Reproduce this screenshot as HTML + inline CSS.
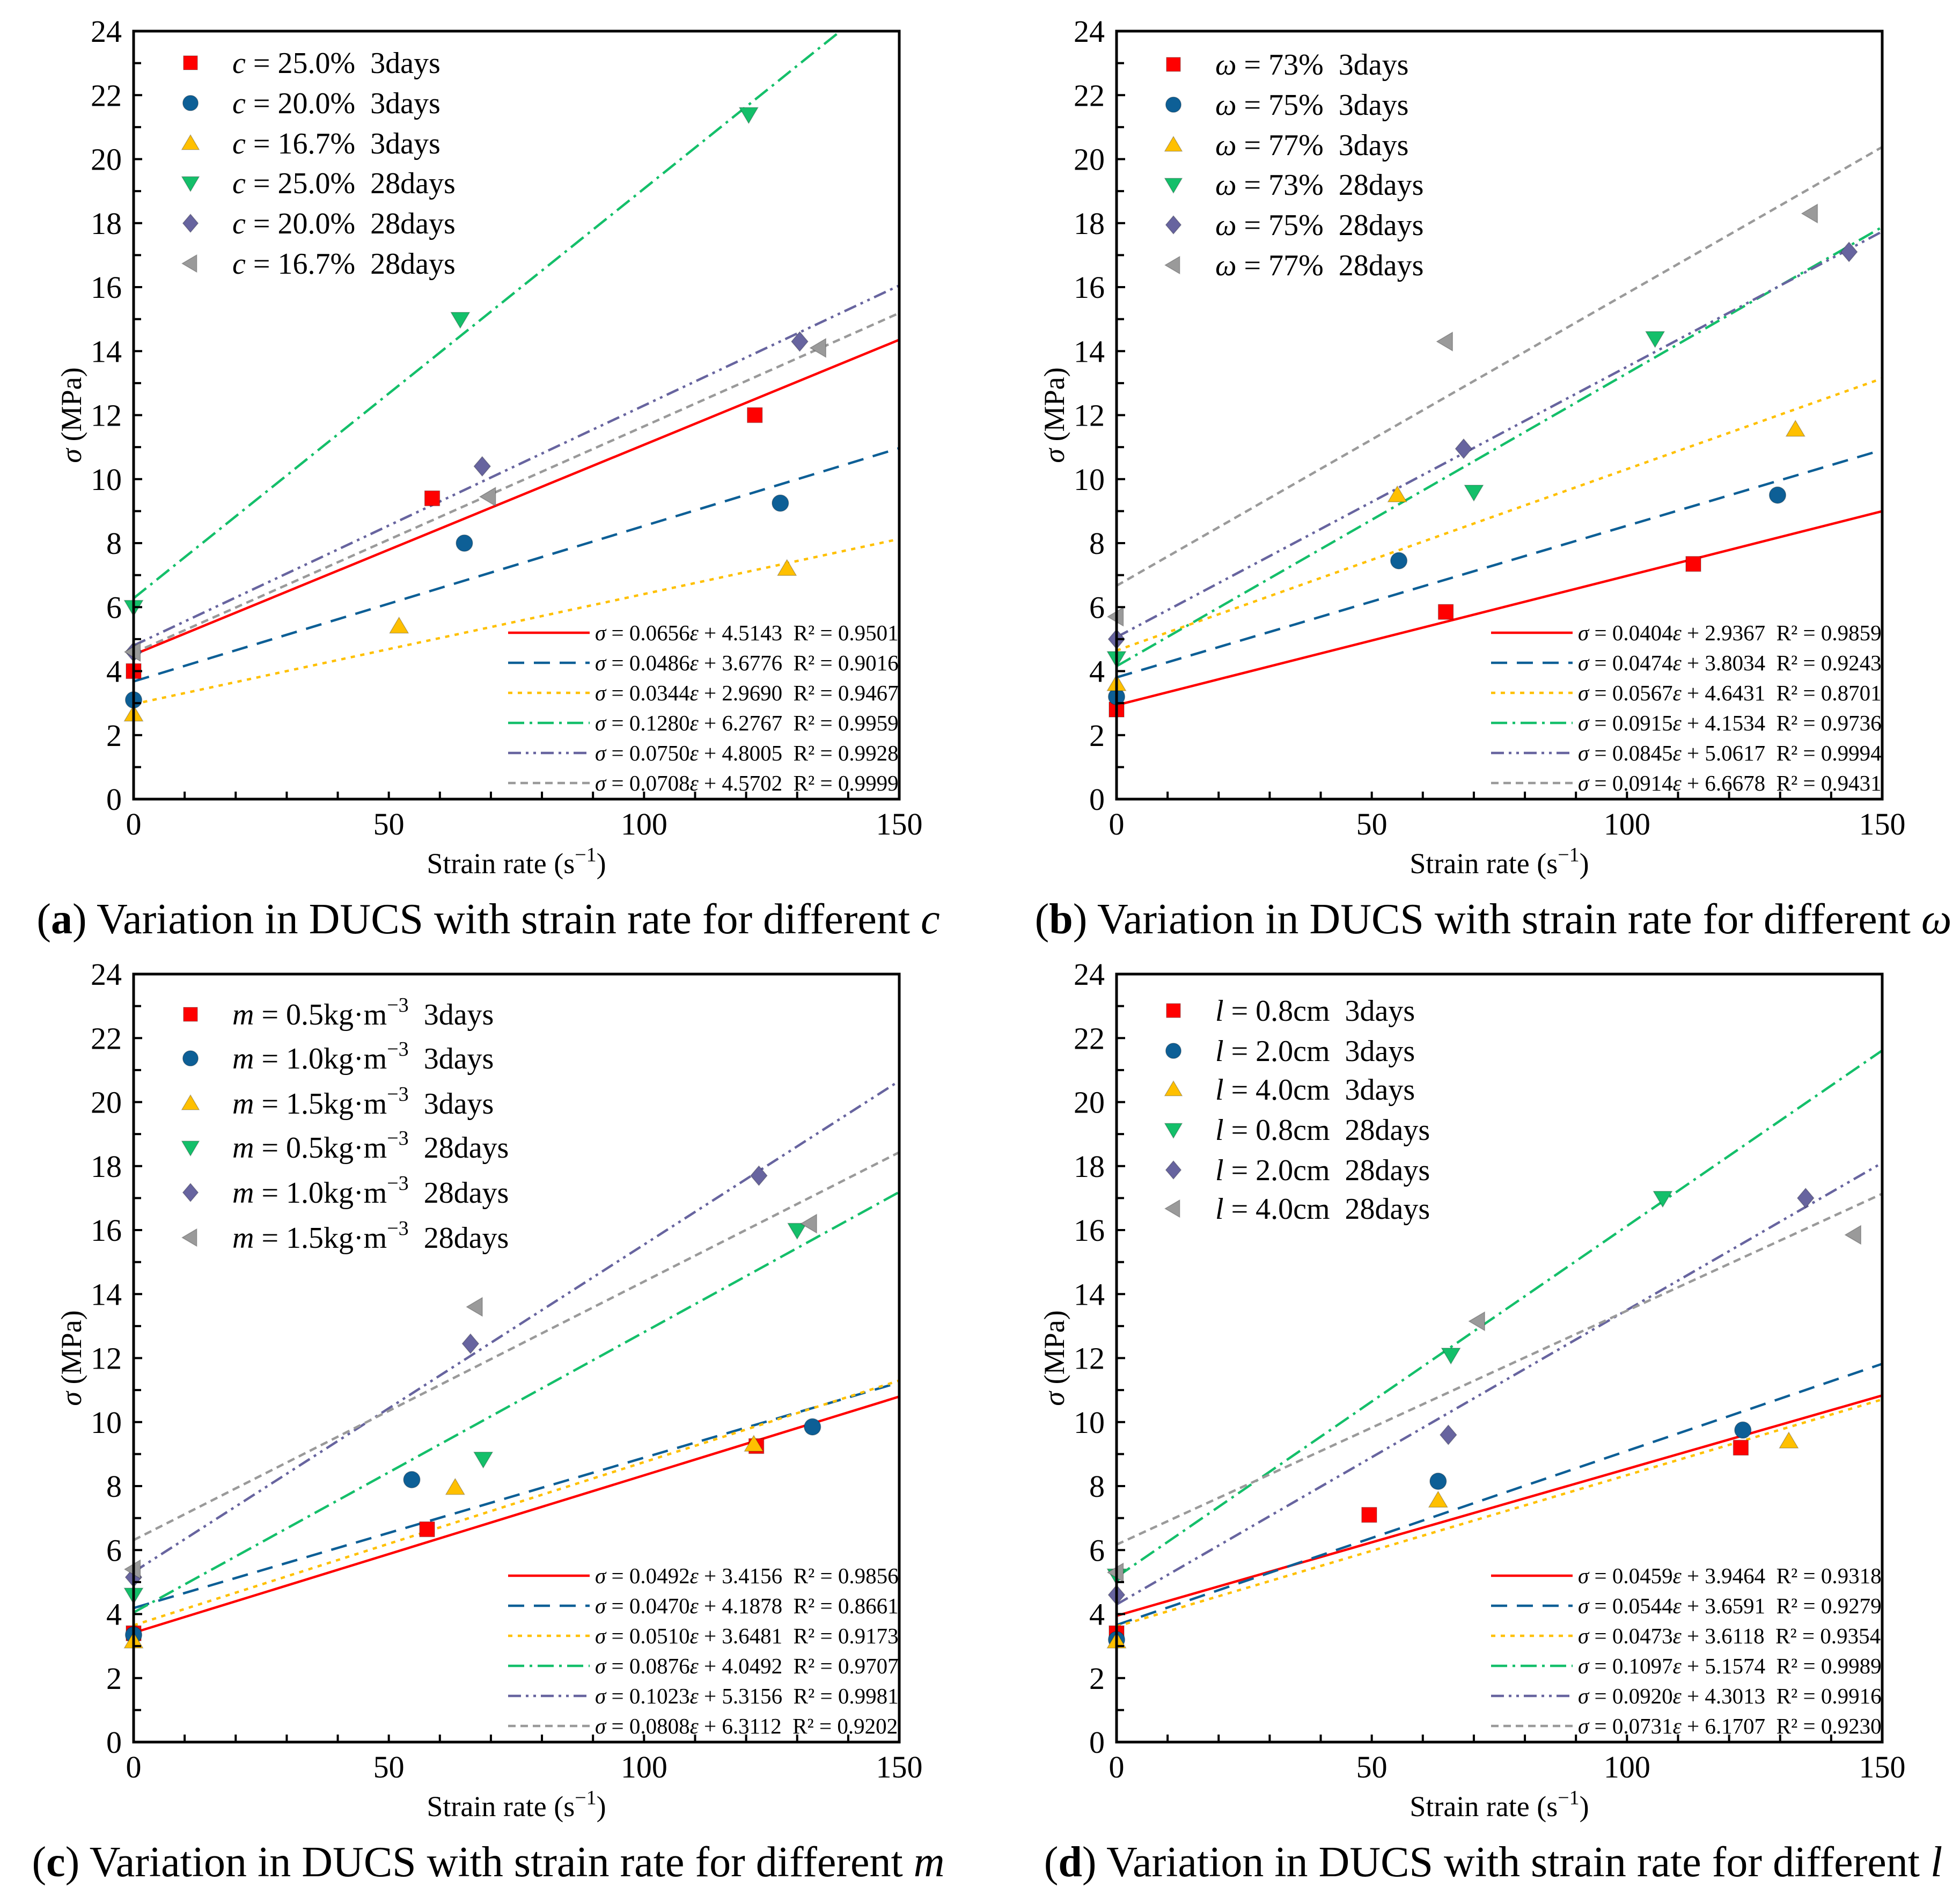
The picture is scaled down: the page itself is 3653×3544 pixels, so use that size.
<!DOCTYPE html>
<html><head><meta charset="utf-8"><style>
html,body{margin:0;padding:0;background:#fff}
svg{display:block;font-family:"Liberation Serif",serif}
svg text{white-space:pre}
</style></head><body>
<svg id="fig" width="3653" height="3544" viewBox="0 0 3653 3544" xmlns="http://www.w3.org/2000/svg"></svg>
<script>
// ---- data ----
const seriesColors = ["#ff0000","#0d5f96","#ffc000","#14bf6a","#67649f","#9a9a9a"];
const seriesMarkers = ["square","circle","triangle","down","diamond","left"];
const seriesDash = ["", "30,18", "8,10", "30,10,5,10", "24,9,5,9,5,9", "14,9"];
const xTicks = [0,50,100,150];
const yTicks = [0,2,4,6,8,10,12,14,16,18,20,22,24];

const aX = [[0,58.5,121.7],[0,64.8,126.7],[0,52,128],[0,64,120.5],[0,68.3,130.5],[0,69.6,134.3]];
const aY = [[4.0,9.4,12.0],[3.1,8.0,9.25],[2.65,5.4,7.2],[6.0,15.0,21.4],[4.6,10.4,14.3],[4.6,9.45,14.1]];
const aSlope = [0.0656,0.0486,0.0344,0.1280,0.0750,0.0708];
const aIntercept = [4.5143,3.6776,2.9690,6.2767,4.8005,4.5702];
const aR2 = ["0.9501","0.9016","0.9467","0.9959","0.9928","0.9999"];
const aLabels = ["25.0%  3days","20.0%  3days","16.7%  3days","25.0%  28days","20.0%  28days","16.7%  28days"];

const bX = [[0,64.5,113],[0,55.3,129.5],[0,55,133],[0,70,105.5],[0,68,143.5],[0,64.5,136]];
const bY = [[2.8,5.85,7.35],[3.2,7.45,9.5],[3.6,9.5,11.55],[4.4,9.6,14.4],[5.0,10.95,17.1],[5.7,14.3,18.3]];
const bSlope = [0.0404,0.0474,0.0567,0.0915,0.0845,0.0914];
const bIntercept = [2.9367,3.8034,4.6431,4.1534,5.0617,6.6678];
const bR2 = ["0.9859","0.9243","0.8701","0.9736","0.9994","0.9431"];
const bLabels = ["73%  3days","75%  3days","77%  3days","73%  28days","75%  28days","77%  28days"];

const cX = [[0,57.5,122],[0,54.5,133],[0,63,121.5],[0,68.5,130],[0,66,122.5],[0,67,132.5]];
const cY = [[3.4,6.65,9.25],[3.35,8.2,9.85],[3.15,7.95,9.3],[4.6,8.85,16.0],[5.15,12.45,17.7],[5.4,13.6,16.2]];
const cSlope = [0.0492,0.0470,0.0510,0.0876,0.1023,0.0808];
const cIntercept = [3.4156,4.1878,3.6481,4.0492,5.3156,6.3112];
const cR2 = ["0.9856","0.8661","0.9173","0.9707","0.9981","0.9202"];
const cLabels = ["0.5","1.0","1.5","0.5","1.0","1.5"];
const cDays = ["3days","3days","3days","28days","28days","28days"];

const dX = [[0,49.5,122.3],[0,63,122.7],[0,63,131.7],[0,65.5,107],[0,65,135],[0,70.8,144.5]];
const dY = [[3.4,7.1,9.2],[3.2,8.15,9.75],[3.15,7.55,9.4],[5.2,12.1,17.0],[4.6,9.6,17.0],[5.3,13.15,15.85]];
const dSlope = [0.0459,0.0544,0.0473,0.1097,0.0920,0.0731];
const dIntercept = [3.9464,3.6591,3.6118,5.1574,4.3013,6.1707];
const dR2 = ["0.9318","0.9279","0.9354","0.9989","0.9916","0.9230"];
const dLabels = ["0.8cm  3days","2.0cm  3days","4.0cm  3days","0.8cm  28days","2.0cm  28days","4.0cm  28days"];

// ---- drawing ----
const NS="http://www.w3.org/2000/svg";
const svg=document.getElementById('fig');
function mk(tag,attrs,parent){const e=document.createElementNS(NS,tag);for(const k in attrs)e.setAttribute(k,attrs[k]);(parent||svg).appendChild(e);return e;}

function marker(g,type,cx,cy,color,s){
  let e;
  if(type==="square") e=mk('rect',{x:cx-s*0.5,y:cy-s*0.5,width:s,height:s,fill:color},g);
  else if(type==="circle") e=mk('circle',{cx:cx,cy:cy,r:s*0.55,fill:color},g);
  else if(type==="triangle") e=mk('polygon',{points:`${cx},${cy-s*0.6} ${cx+s*0.62},${cy+s*0.45} ${cx-s*0.62},${cy+s*0.45}`,fill:color},g);
  else if(type==="down") e=mk('polygon',{points:`${cx},${cy+s*0.6} ${cx+s*0.62},${cy-s*0.45} ${cx-s*0.62},${cy-s*0.45}`,fill:color},g);
  else if(type==="diamond") e=mk('polygon',{points:`${cx},${cy-s*0.65} ${cx+s*0.55},${cy} ${cx},${cy+s*0.65} ${cx-s*0.55},${cy}`,fill:color},g);
  else e=mk('polygon',{points:`${cx-s*0.6},${cy} ${cx+s*0.45},${cy-s*0.62} ${cx+s*0.45},${cy+s*0.62}`,fill:color},g);
  e.setAttribute('stroke','rgba(0,0,0,0.25)');e.setAttribute('stroke-width','1.5');
  return e;
}

function panel(id,L,T,xs,ys,slopes,ints,r2s,legendFn,legendRows,capLetter,capVar,capX){
  const W=1427,H=1431,R=L+W,B=T+H;
  const sx=v=>L+v/150*W, sy=v=>B-v/24*H;
  const g=mk('g',{});  
  const clip=mk('clipPath',{id:'clip'+id},g); mk('rect',{x:L,y:T,width:W,height:H},clip);
  const lg=mk('g',{'clip-path':`url(#clip${id})`},g);
  for(let i=0;i<6;i++){
    const ln=mk('line',{x1:sx(0),y1:sy(ints[i]),x2:sx(150),y2:sy(ints[i]+slopes[i]*150),stroke:seriesColors[i],'stroke-width':4.5,'stroke-dasharray':seriesDash[i]},lg);
    
    
  }
  for(let i=0;i<6;i++){
    for(let j=0;j<xs[i].length;j++){
      const m=marker(g,seriesMarkers[i],sx(xs[i][j]),sy(ys[i][j]),seriesColors[i],28);
      
      
    }
  }
  const fr=mk('rect',{x:L,y:T,width:W,height:H,fill:'none',stroke:'#000','stroke-width':5},g);
   
  for(let v=0;v<=150;v+=10){mk('line',{x1:sx(v),y1:B,x2:sx(v),y2:B-14,stroke:'#000','stroke-width':4},g);}
  for(let v=0;v<=24;v+=1){mk('line',{x1:L,y1:sy(v),x2:L+(v%2?14:16),y2:sy(v),stroke:'#000','stroke-width':4},g);}
  xTicks.forEach(v=>{const t=mk('text',{x:sx(v),y:B+66,'font-size':58,'text-anchor':'middle'},g);t.textContent=v;
    });
  yTicks.forEach(v=>{const t=mk('text',{x:L-22,y:sy(v)+20,'font-size':58,'text-anchor':'end'},g);t.textContent=v;
    });
  const xt=mk('text',{x:L+W/2,y:B+138,'font-size':54,'text-anchor':'middle'},g);
  
  xt.innerHTML='Strain rate (s<tspan dy="-22" font-size="38">−1</tspan><tspan dy="22">)</tspan>';
  const yt=mk('text',{x:0,y:0,'font-size':54,'text-anchor':'middle',transform:`translate(${L-98},${T+H/2}) rotate(-90)`},g);
  
  yt.innerHTML='<tspan font-style="italic">σ</tspan> (MPa)';
  for(let i=0;i<6;i++){
    const yy=legendRows[i];
    const m=marker(g,seriesMarkers[i],L+106,yy,seriesColors[i],26);
    
    const t=mk('text',{x:L+184,y:yy+19,'font-size':56},g);
    
    t.innerHTML=legendFn(i);
  }
  for(let i=0;i<6;i++){
    const yy=T+1121+i*56;
    mk('line',{x1:L+698,y1:yy,x2:L+850,y2:yy,stroke:seriesColors[i],'stroke-width':4.5,'stroke-dasharray':seriesDash[i]},g);
    const t=mk('text',{x:L+860,y:yy+14,'font-size':41},g);
    
    t.innerHTML=`<tspan font-style="italic">σ</tspan> = ${slopes[i].toFixed(4)}<tspan font-style="italic">ε</tspan> + ${ints[i].toFixed(4)}  R² = ${r2s[i]}`;
  }
  const c=mk('text',{x:capX,y:B+250,'font-size':80,'text-anchor':'middle'},g);
  
  c.innerHTML=`(<tspan font-weight="bold">${capLetter}</tspan>) Variation in DUCS with strain rate for different <tspan font-style="italic">${capVar}</tspan>`;
}

const rowsTop=[117,192,267,341,416,491];
panel('a',249,58,aX,aY,aSlope,aIntercept,aR2,i=>`<tspan font-style="italic">c</tspan> = ${aLabels[i]}`,rowsTop,'a','c',910);
panel('b',2081,58,bX,bY,bSlope,bIntercept,bR2,i=>`<tspan font-style="italic">ω</tspan> = ${bLabels[i]}`,rowsTop.map(v=>v+3),'b','ω',2783);
panel('c',249,1815,cX,cY,cSlope,cIntercept,cR2,i=>`<tspan font-style="italic">m</tspan> = ${cLabels[i]}kg·m<tspan dy="-24" font-size="38">−3</tspan><tspan dy="24">  ${cDays[i]}</tspan>`,[1890,1972,2056,2138,2222,2306],'c','m',910);
panel('d',2081,1815,dX,dY,dSlope,dIntercept,dR2,i=>`<tspan font-style="italic">l</tspan> = ${dLabels[i]}`,[1883,1958,2030,2105,2180,2252],'d','l',2783);
</script>
</body></html>
